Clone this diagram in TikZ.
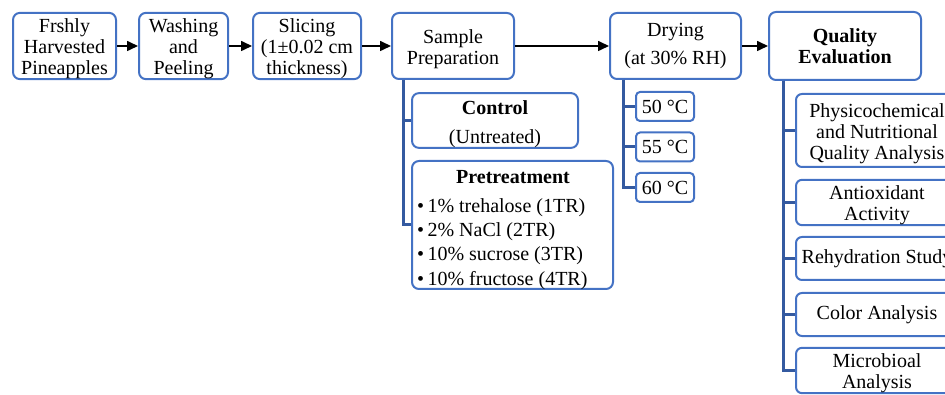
\documentclass[tikz,border=0pt]{standalone}
\usepackage{fontspec}
\setmainfont{Liberation Serif}
\usepackage{tikz}
\usetikzlibrary{positioning}
\usetikzlibrary{arrows.meta}
\definecolor{boxblue}{RGB}{68,114,196}
\definecolor{treeblue}{RGB}{52,90,160}
\def\txt{\fontsize{20}{21}\selectfont}
\def\lift{\rule{0pt}{20pt}}
\tikzset{
  box/.style={draw=boxblue, line width=2pt, rounded corners=7pt, fill=white, align=center, inner sep=0pt, font=\txt},
  smallbox/.style={box, rounded corners=4pt},
  flow/.style={line width=1.6pt, -{Triangle[length=11pt,width=10pt]}},
  tree/.style={draw=treeblue, line width=3pt},
}
\begin{document}
\begin{tikzpicture}[x=1pt,y=-1pt]
    \useasboundingbox (0,0) rectangle (945,395);
    \node[box, minimum width=103pt, minimum height=66pt] (fresh) at (64.5,46) {\lift Frshly\\Harvested\\Pineapples};
    \node[box, minimum width=89pt, minimum height=66pt, right =21pt of fresh] (wash) {\lift Washing\\and\\Peeling};
    \node[box, minimum width=108pt, minimum height=66pt, right =23pt of wash] (slice) {\lift Slicing\\(1±0.02 cm\\thickness)};
    \node[box, minimum width=122pt, minimum height=66pt, right =29pt of slice] (prep) {\lift Sample\\Preparation};
    \node[box, minimum width=131pt, minimum height=66pt, right =94pt of prep] (dry) {Drying\\[7pt](at 30\% RH)};
    \node[box, minimum width=152pt, minimum height=68pt, right =26pt of dry] (qual) {\textbf{Quality}\\\textbf{Evaluation}};
    \node[box, minimum width=166pt, minimum height=53pt] (control) at (495,120.5) {\rule{0pt}{21.5pt}\textbf{Control}\\[8pt](Untreated)};
    \node[box, minimum width=201pt, minimum height=128pt] (pretreat) at (512.5,225) {};
    \node[font=\txt, inner sep=0pt, anchor=base] (pretitle) at (513,184) {\textbf{Pretreatment}};
    \node[font=\fontsize{20}{24.3}\selectfont, inner sep=0pt, align=left, anchor=west] (prelist) at (417,244)
        {\textbullet\,1\% trehalose (1TR)\\\textbullet\,2\% NaCl (2TR)\\\textbullet\,10\% sucrose (3TR)\\\textbullet\,10\% fructose (4TR)};
    \node[smallbox, minimum width=58pt, minimum height=29pt] (t50) at (665,106.5) {50 °C};
    \node[smallbox, minimum width=58pt, minimum height=29pt] (t55) at (665,147) {55 °C};
    \node[smallbox, minimum width=58pt, minimum height=29pt] (t60) at (665,187.5) {60 °C};
    \node[box, rounded corners=6pt, minimum width=162pt, minimum height=73pt] (phys) at (877,130.5) {\lift Physicochemical\\and Nutritional\\Quality Analysis};
    \node[box, rounded corners=6pt, minimum width=162pt, minimum height=43pt] (anti) at (877,202.5) {\lift Antioxidant\\Activity};
    \node[box, rounded corners=6pt, minimum width=162pt, minimum height=43pt] (rehyd) at (877,258.5) {Rehydration Study};
    \node[box, rounded corners=6pt, minimum width=162pt, minimum height=43pt] (colour) at (877,314.5) {Color Analysis};
    \node[box, rounded corners=6pt, minimum width=162pt, minimum height=43pt] (micro) at (877,370.5) {\lift Microbioal\\Analysis};
    \draw[flow] (fresh) -- (wash);
    \draw[flow] (wash) -- (slice);
    \draw[flow] (slice) -- (prep);
    \draw[flow] (prep) -- (dry);
    \draw[flow] (dry) -- (qual);
    \draw[tree] ([xshift=12pt]prep.south west) |- (control.west);
    \draw[tree] ([xshift=12pt]prep.south west) |- (pretreat.west);
    \draw[tree] ([xshift=14pt]dry.south west) |- (t50.west);
    \draw[tree] ([xshift=14pt]dry.south west) |- (t55.west);
    \draw[tree] ([xshift=14pt]dry.south west) |- (t60.west);
    \draw[tree] ([xshift=15pt]qual.south west) |- (phys.west);
    \draw[tree] ([xshift=15pt]qual.south west) |- (anti.west);
    \draw[tree] ([xshift=15pt]qual.south west) |- (rehyd.west);
    \draw[tree] ([xshift=15pt]qual.south west) |- (colour.west);
    \draw[tree] ([xshift=15pt]qual.south west) |- (micro.west);
\end{tikzpicture}
\end{document}
